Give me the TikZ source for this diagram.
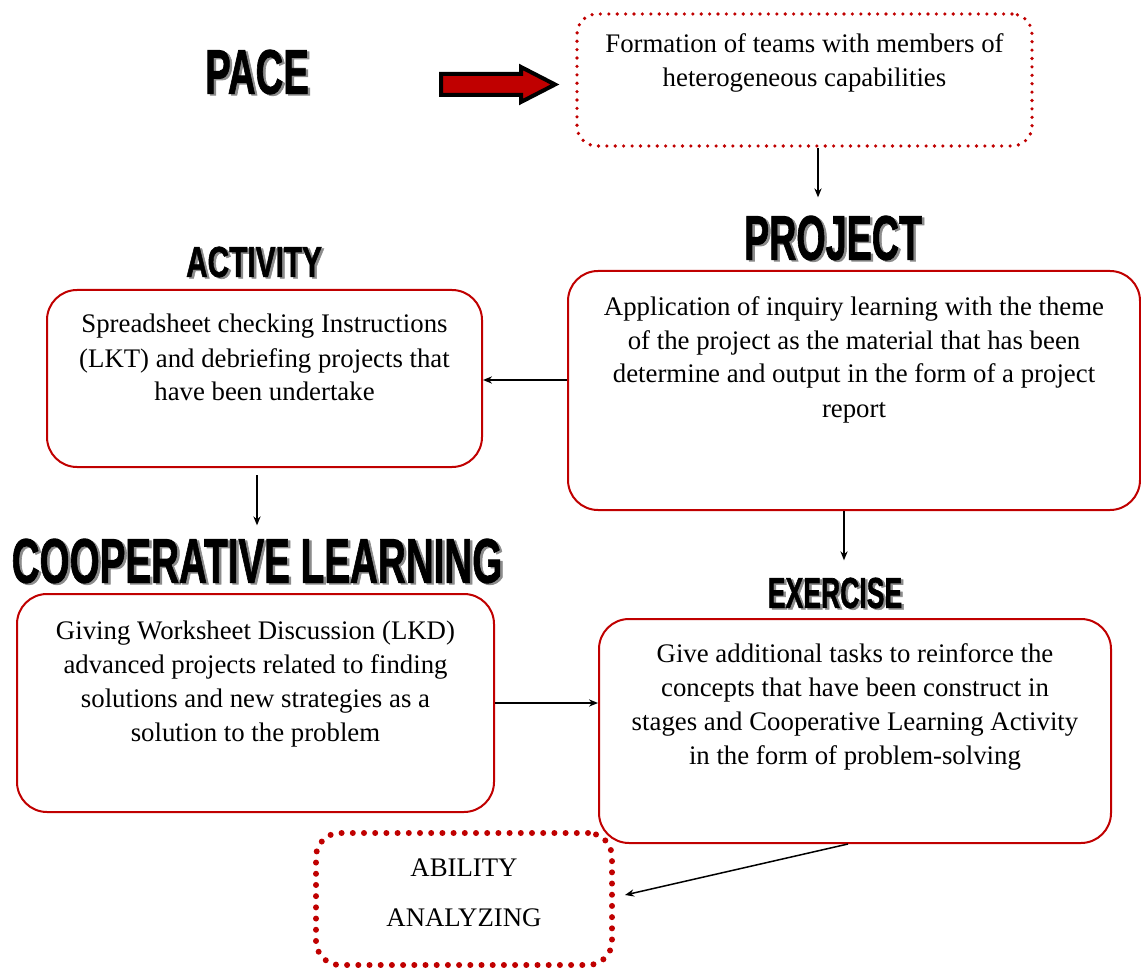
\documentclass[tikz,border=0pt]{standalone}
\usepackage{fontspec}
\usepackage{graphicx}
\setmainfont{Liberation Serif}
\newfontfamily\titlefont{Liberation Sans}[BoldFeatures={FakeBold=1.5}]
\usepackage{tikz}
\usetikzlibrary{arrows.meta}
\definecolor{stagered}{HTML}{C00000}
\definecolor{shadowgray}{HTML}{8C8C8C}
\newcommand{\stagetext}[4]{\parbox[c][#1][t]{#2}{\centering\vspace*{#3}\strut #4\par}}
\newcommand{\stagetitle}[5]{%
  \node[title,text=shadowgray,xshift=1.25pt,yshift=-0.75pt] (#1s) at (#2) {\fontsize{#3}{#3}\selectfont\scalebox{#4}[1]{#5}};
  \node[title] (#1) at (#2) {\fontsize{#3}{#3}\selectfont\scalebox{#4}[1]{#5}};}
\tikzset{
  stage/.style={draw=stagered,line width=1pt,rounded corners=15pt,inner sep=0pt,
    font=\fontsize{13.4}{17}\selectfont},
  dotstage/.style={stage,line width=1.8pt,line cap=round,dash pattern=on 0pt off 4.2pt,rounded corners=10pt},
  bigdotstage/.style={stage,line width=3pt,line cap=round,dash pattern=on 0pt off 5.6pt,rounded corners=12pt},
  title/.style={inner sep=0pt,font=\titlefont\bfseries},
  flow/.style={line width=0.75pt,-{Stealth[length=4.5pt,width=3.6pt]}}
}
\begin{document}
\begin{tikzpicture}[x=0.5pt,y=-0.5pt]
  \useasboundingbox (0,0) rectangle (1141,968);

  % titles
  \stagetitle{pacet}{257,72}{31.4}{0.61}{PACE}
  \stagetitle{projt}{833,238}{31.4}{0.60}{PROJECT}
  \stagetitle{actt}{254,262}{21.6}{0.69}{ACTIVITY}
  \stagetitle{coopt}{257,561}{31.4}{0.615}{COOPERATIVE LEARNING}
  \stagetitle{exert}{835,593}{21.6}{0.615}{EXERCISE}

  % stages
  \node[dotstage] (form) at (804.5,80) {\stagetext{66pt}{227.5pt}{7.6pt}{Formation of teams with members of\\heterogeneous capabilities}};
  \node[stage] (act) at (264.5,378.5) {\stagetext{88.5pt}{217.5pt}{9.6pt}{Spreadsheet checking Instructions\\(LKT) and debriefing projects that\\have been undertake}};
  \node[stage] (proj) at (854,390.5) {\stagetext{119.5pt}{286pt}{10.1pt}{Application of inquiry learning with the theme\\of the project as the material that has been\\determine and output in the form of a project\\report}};
  \node[stage] (coop) at (255.5,703) {\stagetext{109pt}{238.5pt}{10.6pt}{Giving Worksheet Discussion (LKD)\\advanced projects related to finding\\solutions and new strategies as a\\solution to the problem}};
  \node[stage] (exer) at (855,731) {\stagetext{112pt}{256pt}{9.6pt}{Give additional tasks to reinforce the\\concepts that have been construct in\\stages and Cooperative Learning Activity\\in the form of problem-solving}};
  \node[bigdotstage] (abil) at (464,899) {\stagetext{66pt}{148pt}{9.6pt}{ABILITY\\[8pt]ANALYZING}};

  % block arrow
  \draw[line width=2pt,fill=stagered,line join=miter]
    (441,74) -- (521,74) -- (521,67) -- (555,84.5) -- (521,102) -- (521,95) -- (441,95) -- cycle;

  % connectors
  \draw[flow,shorten >=9pt] ([xshift=6.75pt]form.south) -- ([xshift=6.75pt]form.south |- projt.north);
  \draw[flow] ([yshift=5.25pt]proj.west) -- ([yshift=-0.75pt]act.east);
  \draw[flow,shorten <=3.5pt,shorten >=6.5pt] ([xshift=-3.75pt]act.south) -- ([xshift=-3.75pt]act.south |- coopt.north);
  \draw[flow,shorten >=8.5pt] ([xshift=-5pt]proj.south) -- ([xshift=-5pt]proj.south |- exert.north);
  \draw[flow] (coop.east) -- ([yshift=14pt]exer.west);
  \draw[flow] ([xshift=-3.5pt]exer.south) -- ([xshift=5pt,yshift=2pt]abil.east);
\end{tikzpicture}
\end{document}
